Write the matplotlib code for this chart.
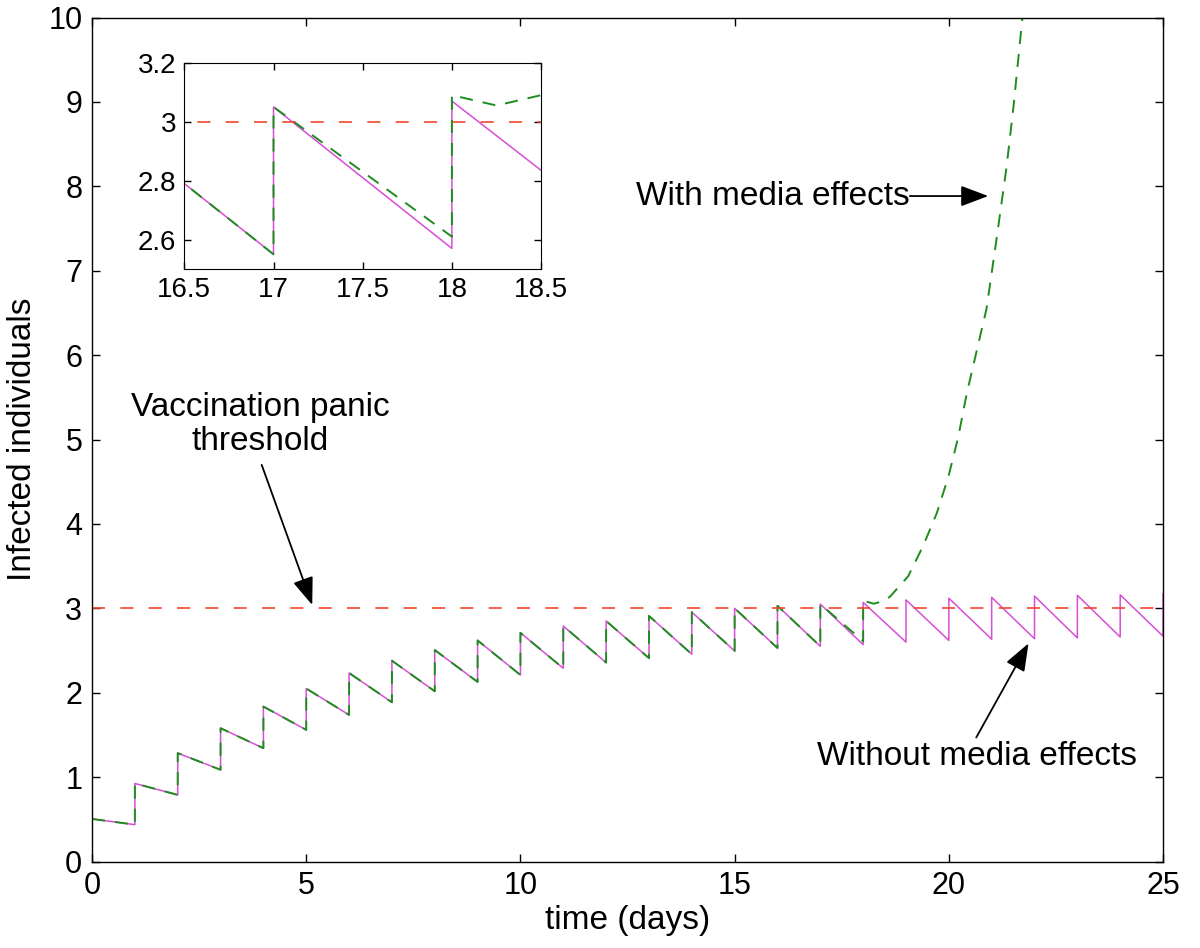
import matplotlib
matplotlib.use('Agg')
import matplotlib.pyplot as plt

plt.rcParams['font.family'] = ['Liberation Sans', 'DejaVu Sans']
plt.rcParams['lines.scale_dashes'] = False

# value right after each daily jump (t = 0, 1, ..., 25) without media effects
nomedia_start = [0.505, 0.925, 1.285, 1.58, 1.836, 2.05, 2.234, 2.38, 2.506, 2.62,
                 2.71, 2.79, 2.85, 2.91, 2.955, 3.0, 3.03, 3.05, 3.07, 3.10,
                 3.12, 3.13, 3.145, 3.155, 3.16, 3.17]
# value just before the next jump (t = 1, 2, ..., 25)
nomedia_end = [0.437, 0.79, 1.087, 1.343, 1.56, 1.737, 1.887, 2.017, 2.128, 2.21,
               2.29, 2.357, 2.41, 2.457, 2.495, 2.53, 2.55, 2.57, 2.60, 2.62,
               2.634, 2.64, 2.65, 2.66, 2.67]

# with media effects: same sawtooth up to day 17, then it takes off after day 18
media_start = nomedia_start[:18]
media_end = nomedia_end[:17] + [2.61]
media_tail_t = [18.0, 18.25, 18.5, 18.63, 19.05, 19.40, 19.72, 19.99, 20.22, 20.42,
                20.65, 20.88, 21.12, 21.35, 21.51, 21.72, 21.85]
media_tail_y = [3.09, 3.055, 3.09, 3.14, 3.38, 3.74, 4.13, 4.56, 5.03, 5.55,
                6.05, 6.55, 7.40, 8.24, 8.95, 10.01, 10.7]

threshold = 3.0
t_range = [0, 25]

magenta = '#d64fd6'
green = '#1e8c1e'
red = '#f2452b'


def sawtooth(starts, ends):
    ts, ys = [], []
    for d, s in enumerate(starts):
        ts.append(d)
        ys.append(s)
        if d < len(ends):
            ts.append(d + 1)
            ys.append(ends[d])
    return ts, ys


t_nm, y_nm = sawtooth(nomedia_start, nomedia_end)
t_m, y_m = sawtooth(media_start, media_end)
t_m = t_m + media_tail_t
y_m = y_m + media_tail_y


def draw_lines(a):
    a.plot(t_nm, y_nm, color=magenta, lw=1.1)
    a.plot(t_m, y_m, color=green, lw=1.4, dashes=(9.4, 7.2))
    a.plot(t_range, [threshold, threshold], color=red, lw=1.2, dashes=(9.4, 11))


fig = plt.figure(figsize=(12, 9.48), dpi=100)
ax = fig.add_axes([0.0767, 0.0912, 0.8925, 0.8903])
draw_lines(ax)
ax.set_xlim(0, 25)
ax.set_ylim(0, 10)
ax.set_xticks([0, 5, 10, 15, 20, 25])
ax.set_yticks(range(0, 11))
ax.tick_params(direction='in', length=6, width=1, labelsize=22, pad=7,
               top=True, right=True)
ax.set_xlabel('time (days)', fontsize=24, labelpad=3)
ax.set_ylabel('Infected individuals', fontsize=24, labelpad=7)
for s in ax.spines.values():
    s.set_linewidth(1.0)

arrow = dict(arrowstyle='-|>,head_length=0.85,head_width=0.32', mutation_scale=20,
             lw=1.3, color='black', shrinkA=0, shrinkB=0)

ax.text(19.09, 7.885, 'With media effects', fontsize=24, ha='right', va='center')
ax.annotate('', xy=(20.92, 7.885), xytext=(19.09, 7.885), arrowprops=arrow)

ax.text(3.93, 5.18, 'Vaccination panic\nthreshold', fontsize=24, ha='center',
        va='center', linespacing=1.1)
ax.annotate('', xy=(5.14, 3.04), xytext=(3.96, 4.70), arrowprops=arrow)

ax.text(20.65, 1.24, 'Without media effects', fontsize=24, ha='center', va='center')
ax.annotate('', xy=(21.86, 2.585), xytext=(20.64, 1.47), arrowprops=arrow)

# zoomed inset around days 16.5 - 18.5
ins = fig.add_axes([0.1536, 0.7162, 0.2973, 0.2176])
draw_lines(ins)
ins.set_xlim(16.5, 18.5)
ins.set_ylim(2.5, 3.2)
ins.set_xticks([16.5, 17, 17.5, 18, 18.5])
ins.set_xticklabels(['16.5', '17', '17.5', '18', '18.5'])
ins.set_yticks([2.6, 2.8, 3.0, 3.2])
ins.set_yticklabels(['2.6', '2.8', '3', '3.2'])
ins.tick_params(direction='in', length=5, width=1, labelsize=20, pad=6,
                top=True, right=True)

fig.savefig('out.png', dpi=100)
